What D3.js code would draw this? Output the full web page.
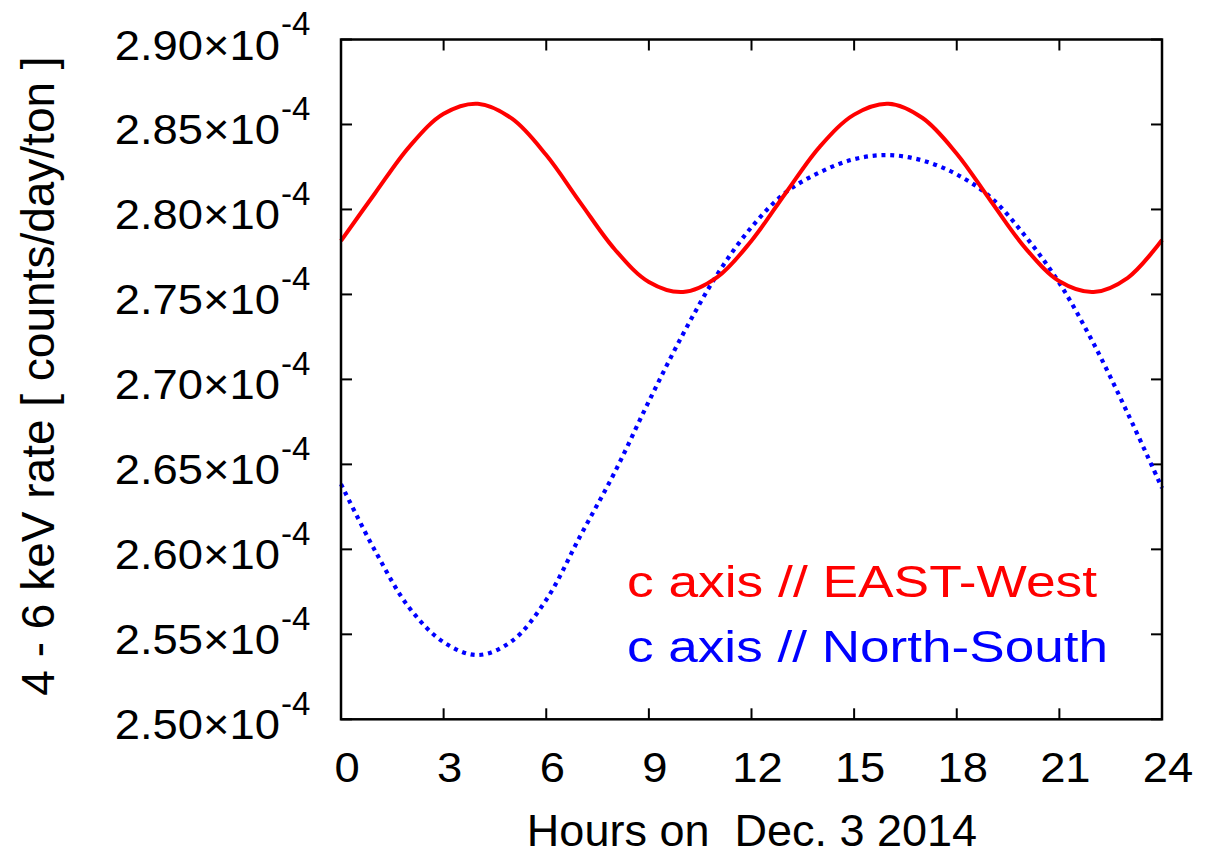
<!DOCTYPE html>
<html><head><meta charset="utf-8">
<script src="https://cdn.jsdelivr.net/npm/d3@7"></script>
<style>
html,body{margin:0;padding:0;background:#fff;}
svg{display:block;}
text{font-family:"Liberation Sans",Arial,sans-serif;white-space:pre;}
</style></head>
<body>
<svg id="chart" width="1212" height="858"></svg>
<script>
// ---- data ----
const hours = [0,1,2,3,4,5,6,7,8,9,10,11,12,13,14,15,16,17,18,19,20,21,22,23,24];
const eastWest = [2.7815,2.8097,2.8370,2.8563,2.8622,2.8534,2.8320,2.8039,2.7766,2.7573,2.7514,2.7602,
                  2.7816,2.8097,2.8370,2.8558,2.8622,2.8538,2.8328,2.8048,2.7774,2.7577,2.7514,2.7598,2.7820];
const northSouth = [2.6384,2.5990,2.5655,2.5454,2.5378,2.5461,2.5703,2.6081,2.6453,2.6871,2.7267,2.7618,
                    2.7896,2.8100,2.8219,2.8296,2.8320,2.8288,2.8206,2.8070,2.7844,2.7567,2.7211,2.6799,2.6361];
const xTicks = [0,3,6,9,12,15,18,21,24];
const yTicks = [2.50,2.55,2.60,2.65,2.70,2.75,2.80,2.85,2.90];
const legendLabels = ["c axis // EAST-West","c axis // North-South"];
const xTitle = "Hours on  Dec. 3 2014";
const yTitle = "4 - 6 keV rate [ counts/day/ton ]";

// ---- layout ----
const L = 341, R = 1162, T = 39.5, B = 719.3;
const svg = d3.select("#chart");
const x = d3.scaleLinear().domain([0,24]).range([L,R]);
const y = d3.scaleLinear().domain([2.50,2.90]).range([B,T]);

const tickLen = 11;
// ticks (inward, mirrored)
const g = svg.append("g").attr("stroke","#000").attr("stroke-width",2);
xTicks.forEach(v=>{
  g.append("line").attr("x1",x(v)).attr("x2",x(v)).attr("y1",B).attr("y2",B-tickLen);
  g.append("line").attr("x1",x(v)).attr("x2",x(v)).attr("y1",T).attr("y2",T+tickLen);
});
yTicks.forEach(v=>{
  g.append("line").attr("x1",L).attr("x2",L+tickLen).attr("y1",y(v)).attr("y2",y(v));
  g.append("line").attr("x1",R).attr("x2",R-tickLen).attr("y1",y(v)).attr("y2",y(v));
});

// curves
const line = d3.line().x((d,i)=>x(hours[i])).y(d=>y(d)).curve(d3.curveCatmullRom.alpha(0.5));
svg.append("path").datum(northSouth).attr("d",line)
  .attr("fill","none").attr("stroke","#0000ff").attr("stroke-width",4.2)
  .attr("stroke-dasharray","4,4.8");
svg.append("path").datum(eastWest).attr("d",line)
  .attr("fill","none").attr("stroke","#ff0000").attr("stroke-width",4);

// frame
svg.append("rect").attr("x",L).attr("y",T).attr("width",R-L).attr("height",B-T)
  .attr("fill","none").attr("stroke","#000").attr("stroke-width",2.5);

// x tick labels
xTicks.forEach(v=>{
  svg.append("text").attr("transform",`translate(${x(v)+6},782) scale(1.08,1)`)
    .attr("text-anchor","middle").attr("font-size",42).attr("fill","#000").text(d3.format("d")(v));
});
// y tick labels
yTicks.forEach(v=>{
  const t = svg.append("text").attr("transform",`translate(280,${y(v)+20}) scale(1.08,1)`)
    .attr("text-anchor","end").attr("font-size",42).attr("fill","#000");
  t.text(d3.format(".2f")(v)+"\u00d710");
  svg.append("text").attr("x",281).attr("y",y(v)-4.5).attr("font-size",33).attr("fill","#000").text("-4");
});

// titles
svg.append("text").attr("x",752).attr("y",846).attr("text-anchor","middle")
  .attr("font-size",45).attr("fill","#000").attr("xml:space","preserve").text(xTitle);
svg.append("text").attr("transform","translate(54,376) rotate(-90)").attr("text-anchor","middle")
  .attr("font-size",46).attr("fill","#000").text(yTitle);

// legend
const legendColors = ["#ff0000","#0000ff"];
const legendW = [470,481];
legendLabels.forEach((s,i)=>{
  svg.append("text").attr("x",627).attr("y",597+i*65).attr("font-size",44)
    .attr("fill",legendColors[i]).attr("textLength",legendW[i]).attr("lengthAdjust","spacingAndGlyphs").text(s);
});
</script>
</body></html>
